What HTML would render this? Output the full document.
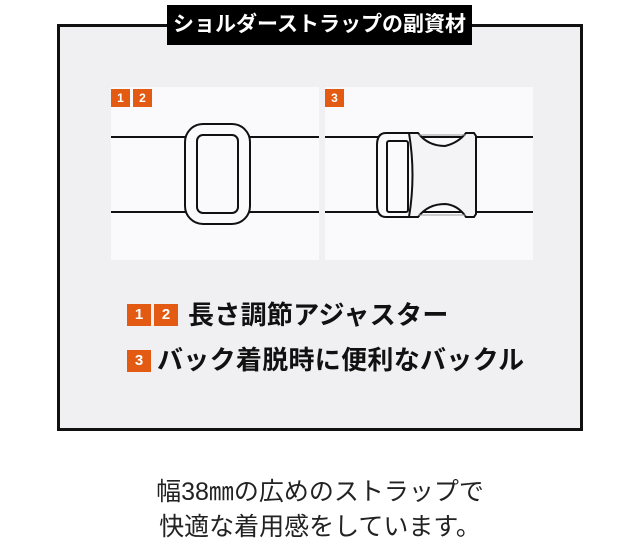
<!DOCTYPE html>
<html><head><meta charset="utf-8"><style>
body{margin:0;width:640px;height:546px;background:#fff;position:relative;overflow:hidden;font-family:"Liberation Sans","Noto Sans CJK JP",sans-serif}
.frame{position:absolute;left:57px;top:24px;width:520px;height:401px;border:3px solid #111;background:#f0f0f2}
.title{position:absolute;left:167px;top:5px;width:305px;height:40px;background:#000;color:#fff;font-weight:bold;font-size:21px;line-height:40px;text-align:center}
.panel{position:absolute;top:87px;width:208px;height:173px;background:#fafafc}
.b{position:absolute;background:#e35a12;color:#fff;font-weight:bold;text-align:center}
.sb{width:19px;height:18px;font-size:12px;line-height:18px;top:89px}
.lb{width:24px;height:22px;font-size:15px;line-height:22px}
.leg{position:absolute;font-weight:bold;font-size:26px;letter-spacing:0.3px;color:#111;line-height:30px;white-space:nowrap}
.bt{position:absolute;left:0;width:640px;text-align:center;font-size:25px;color:#222;line-height:30px}
</style></head><body>
<div class="frame"></div>
<div class="title">ショルダーストラップの副資材</div>
<div class="panel" style="left:111px"></div>
<div class="panel" style="left:325px"></div>
<svg style="position:absolute;left:0;top:0" width="640" height="546">
<g stroke="#111" stroke-width="2" fill="#fafafc">
<line x1="111" y1="137" x2="319" y2="137"/><line x1="111" y1="212" x2="319" y2="212"/>
<rect x="185" y="124" width="65" height="100" rx="18"/>
<rect x="197" y="135" width="41" height="78" rx="6"/>
<line x1="325" y1="137" x2="533" y2="137"/><line x1="325" y1="212" x2="533" y2="212"/>
<path d="M405 133 L418 133 Q428 146 445 146 Q458 143 466 133 L474 133 L476 136 L476 214 L474 217 L466 217 Q458 205 445 204 Q428 204 418 217 L405 217 Z" fill="#f4f4f6"/>
<line x1="418" y1="135" x2="466" y2="135" stroke="#999" stroke-width="1"/>
<line x1="418" y1="215" x2="466" y2="215" stroke="#999" stroke-width="1"/>
<path d="M386 133 L409 133 Q416 175 409 217 L386 217 Q377 217 377 205 L377 145 Q377 133 386 133 Z"/>
<rect x="387" y="141" width="21" height="71" rx="2"/>
</g>
</svg>
<div class="b sb" style="left:111px">1</div>
<div class="b sb" style="left:133px">2</div>
<div class="b sb" style="left:325px">3</div>
<div class="b lb" style="left:127px;top:304px">1</div>
<div class="b lb" style="left:154px;top:304px">2</div>
<div class="leg" style="left:188px;top:300px">長さ調節アジャスター</div>
<div class="b lb" style="left:127px;top:350px">3</div>
<div class="leg" style="left:157px;top:345px">バック着脱時に便利なバックル</div>
<div class="bt" style="top:477px">幅38㎜の広めのストラップで</div>
<div class="bt" style="top:512px">快適な着用感をしています。</div>
</body></html>
